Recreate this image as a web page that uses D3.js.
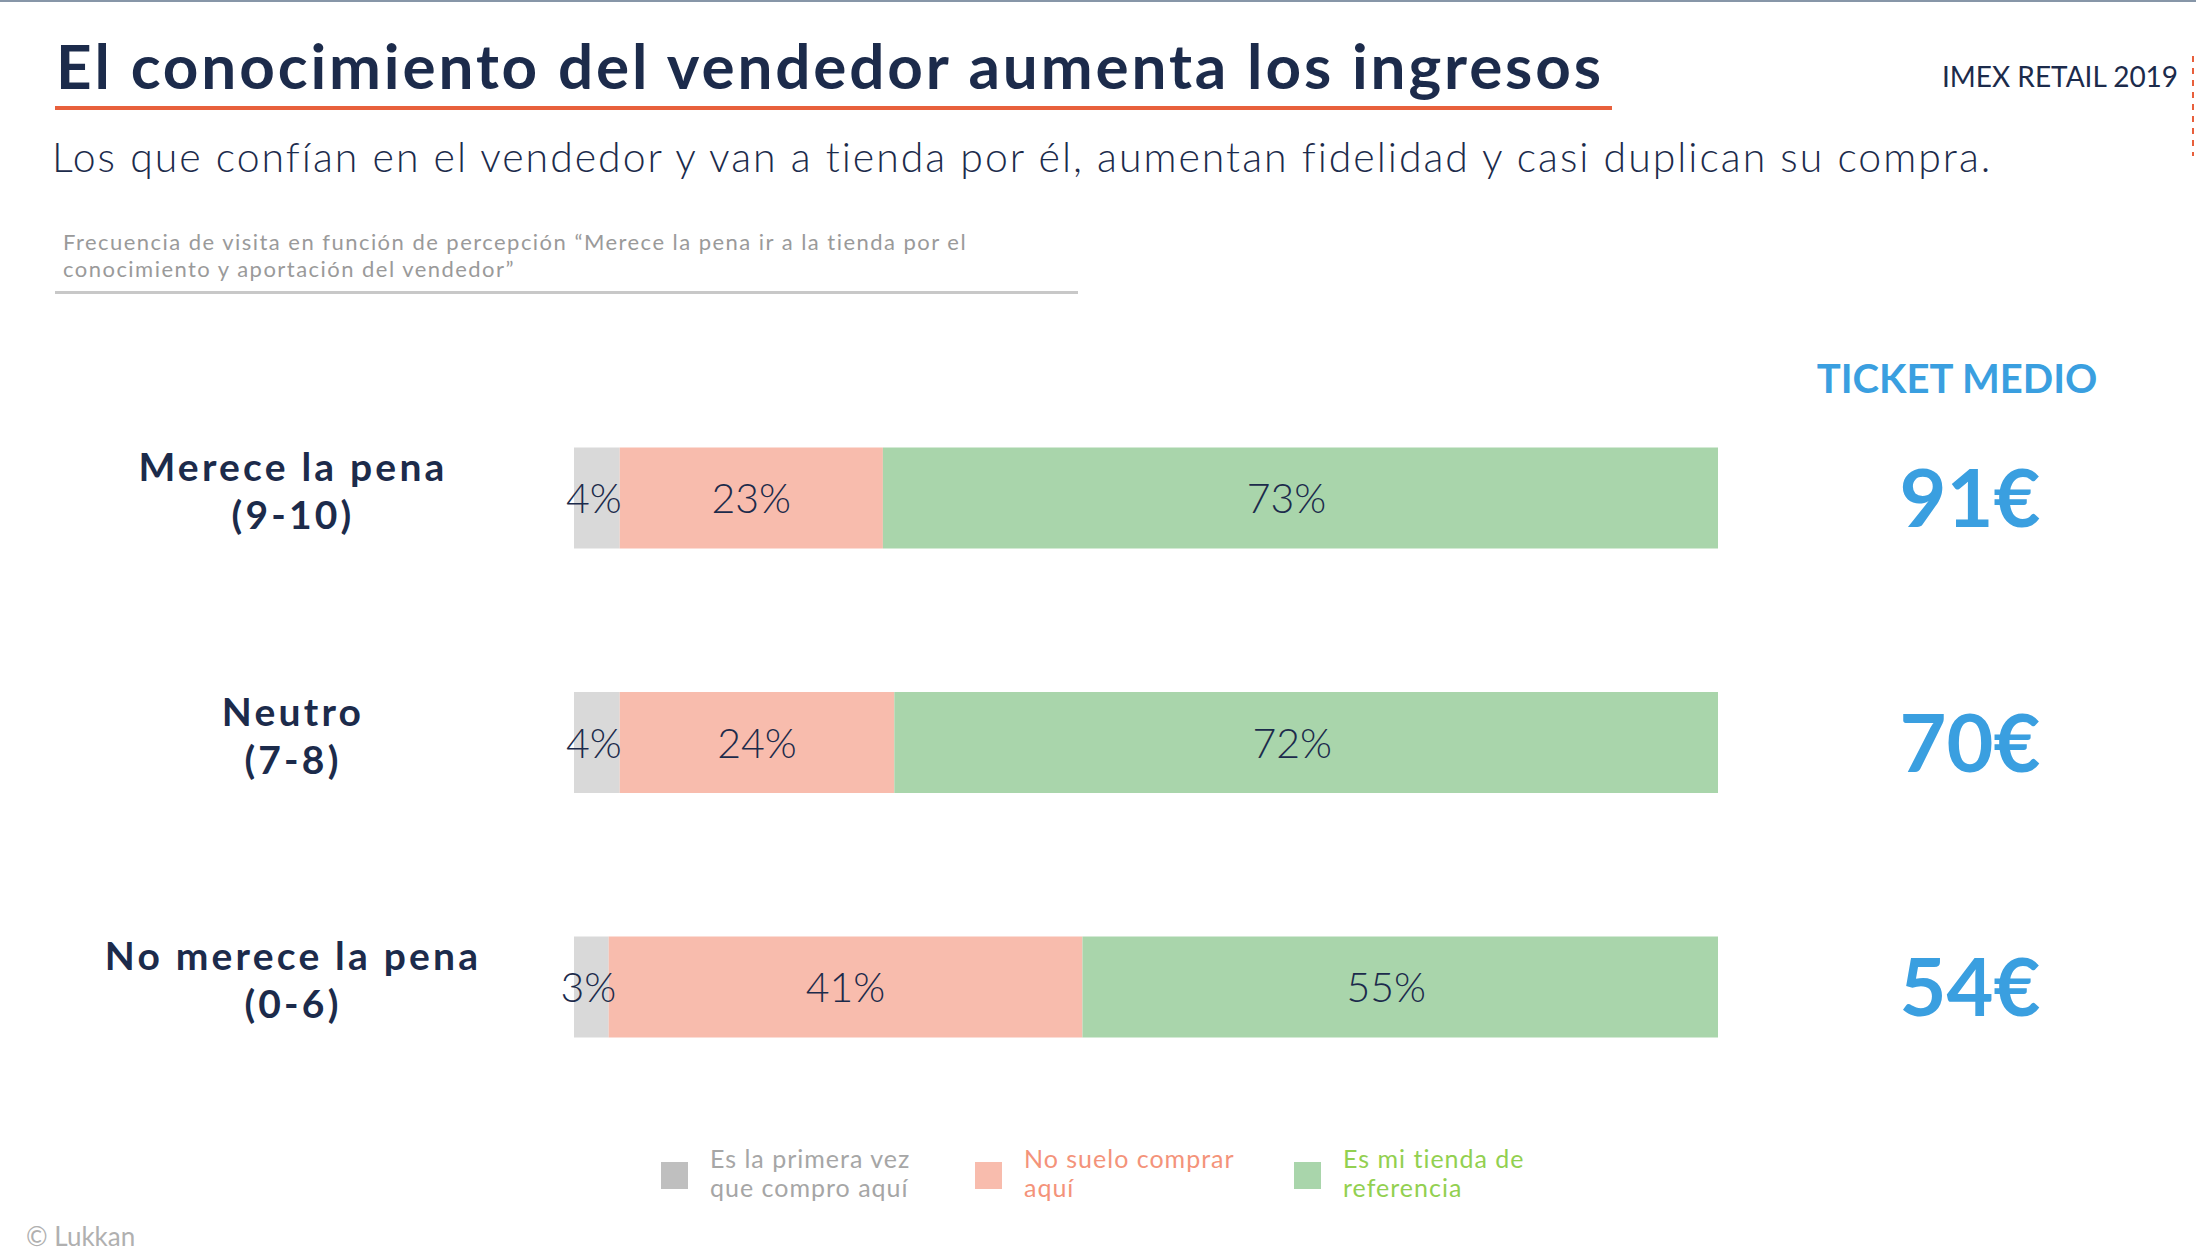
<!DOCTYPE html>
<html>
<head>
<meta charset="utf-8">
<script src="https://cdn.jsdelivr.net/npm/d3@7"></script>
<style>
  html, body { margin: 0; padding: 0; background: #fff; overflow: hidden; }
  svg { display: block; }
</style>
</head>
<body>
<script>
// ---- Data ----
const categoryLine1 = ["Merece la pena", "Neutro", "No merece la pena"];
const categoryLine2 = ["(9-10)", "(7-8)", "(0-6)"];
const seriesNames = ["Es la primera vez que compro aquí", "No suelo comprar aquí", "Es mi tienda de referencia"];
const legendLine1 = ["Es la primera vez", "No suelo comprar", "Es mi tienda de"];
const legendLine2 = ["que compro aquí", "aquí", "referencia"];
const primeraVez = [4, 4, 3];
const noSuelo = [23, 24, 41];
const referencia = [73, 72, 55];
const ticketMedio = [91, 70, 54];

const title = "El conocimiento del vendedor aumenta los ingresos";
const subtitle = "Los que confían en el vendedor y van a tienda por él, aumentan fidelidad y casi duplican su compra.";
const noteLines = ["Frecuencia de visita en función de percepción “Merece la pena ir a la tienda por el", "conocimiento y aportación del vendedor”"];
const brand = "IMEX RETAIL 2019";
const ticketTitle = "TICKET MEDIO";

// ---- Styles ----
const W = 2196, H = 1256;
const navy = "#1c2b4b";
const barColors = ["#d9d9d9", "#f8bcad", "#a9d5ab"];
const legendSwatch = ["#bfbfbf", "#f8bcad", "#a9d5ab"];
const legendText = ["#a6a6a6", "#f4937a", "#92d050"];
const blue = "#3a9fe0";
const FONT = "Lato, 'Noto Sans', sans-serif";

const svg = d3.select("body").append("svg").attr("width", W).attr("height", H)
  .style("font-family", FONT);

// stretch a text to a target width with letter spacing; returns spacing used
function fitSpacing(sel, target) {
  const node = sel.node();
  const w = node.getComputedTextLength();
  const n = node.textContent.length;
  const sp = Math.max(0, (target - w) / Math.max(1, n - 1));
  sel.attr("letter-spacing", sp);
  return sp;
}

// top border
svg.append("rect").attr("x", 0).attr("y", 0).attr("width", W).attr("height", 2).attr("fill", "#8796a8");
// right dashed accent
svg.append("line").attr("x1", 2193).attr("x2", 2193).attr("y1", 56).attr("y2", 156)
  .attr("stroke", "#e8603c").attr("stroke-width", 2).attr("stroke-dasharray", "6,6");

// title
const tt = svg.append("text").attr("x", 56).attr("y", 89).text(title)
  .attr("font-size", 62).attr("font-weight", 700).attr("fill", navy);
fitSpacing(tt, 1545);
svg.append("rect").attr("x", 55).attr("y", 106).attr("width", 1557).attr("height", 4).attr("fill", "#e8603c");

svg.append("text").attr("x", 1942).attr("y", 87).text(brand)
  .attr("font-size", 28).attr("font-weight", 400).attr("fill", navy);

const st = svg.append("text").attr("x", 52).attr("y", 172).text(subtitle)
  .attr("font-size", 41).attr("font-weight", 300).attr("fill", navy);
fitSpacing(st, 1937);

// note
const notes = svg.selectAll("text.note").data(noteLines).join("text").attr("class", "note")
  .attr("x", 63).attr("y", (d, i) => 250 + i * 27).text(d => d)
  .attr("font-size", 22).attr("fill", "#9a9a9a");
const nsp = fitSpacing(d3.select(notes.nodes()[0]), 903);
notes.attr("letter-spacing", nsp);
svg.append("rect").attr("x", 55).attr("y", 291).attr("width", 1023).attr("height", 3).attr("fill", "#c8c8c8");

// ---- Scales ----
const y = d3.scalePoint().domain(d3.range(categoryLine1.length)).range([498, 987]);
const x = d3.scaleLinear().domain([0, 100]).range([574, 1718]);
const barH = 101;

const rows = categoryLine1.map((c, i) => {
  const vals = [primeraVez[i], noSuelo[i], referencia[i]];
  const tot = d3.sum(vals);
  let acc = 0;
  return vals.map((v, k) => {
    const s = { row: i, k, v, x0: acc / tot * 100, x1: (acc + v) / tot * 100 };
    acc += v;
    return s;
  });
});
const segs = rows.flat();

const g = svg.append("g");
g.selectAll("rect.seg").data(segs).join("rect").attr("class", "seg")
  .attr("x", d => x(d.x0)).attr("width", d => x(d.x1) - x(d.x0))
  .attr("y", d => y(d.row) - barH / 2).attr("height", barH)
  .attr("fill", d => barColors[d.k]);

g.selectAll("text.pct").data(segs).join("text").attr("class", "pct")
  .attr("x", d => d.k === 0 ? (x(d.x0) + x(d.x1)) / 2 - 3 : (x(d.x0) + x(d.x1)) / 2 - (d.k === 2 ? 14 : 0))
  .attr("y", d => y(d.row) + 15)
  .attr("text-anchor", "middle").attr("font-size", 41).attr("font-weight", 300)
  .attr("fill", navy).text(d => d.v + "%");

// category labels
const cat = svg.selectAll("g.cat").data(categoryLine1).join("g").attr("class", "cat");
cat.append("text").attr("x", 293).attr("y", (d, i) => y(i) - 17).attr("text-anchor", "middle")
  .attr("font-size", 39).attr("font-weight", 700).attr("letter-spacing", 3.2).attr("fill", navy).text(d => d);
cat.append("text").attr("x", 293).attr("y", (d, i) => y(i) + 31).attr("text-anchor", "middle")
  .attr("font-size", 39).attr("font-weight", 700).attr("letter-spacing", 3.2).attr("fill", navy).text((d, i) => categoryLine2[i]);

// ticket medio
svg.append("text").attr("x", 1957).attr("y", 393).attr("text-anchor", "middle")
  .attr("font-size", 40).attr("font-weight", 700).attr("fill", blue).text(ticketTitle);
svg.selectAll("text.ticket").data(ticketMedio).join("text").attr("class", "ticket")
  .attr("x", 1970).attr("y", (d, i) => y(i) + 29).attr("text-anchor", "middle")
  .attr("font-size", 81).attr("font-weight", 700).attr("fill", blue).text(d => d + "€");

// legend
const legX = [661, 975, 1294];
const lg = svg.selectAll("g.leg").data(seriesNames).join("g").attr("class", "leg")
  .attr("transform", (d, i) => `translate(${legX[i]},0)`);
lg.append("rect").attr("x", 0).attr("y", 1162).attr("width", 27).attr("height", 27)
  .attr("fill", (d, i) => legendSwatch[i]);
lg.append("text").attr("x", 49).attr("y", 1168).attr("font-size", 25).attr("font-weight", 400)
  .attr("letter-spacing", 1).attr("fill", (d, i) => legendText[i]).text((d, i) => legendLine1[i]);
lg.append("text").attr("x", 49).attr("y", 1197).attr("font-size", 25).attr("font-weight", 400)
  .attr("letter-spacing", 1).attr("fill", (d, i) => legendText[i]).text((d, i) => legendLine2[i]);

// footer
svg.append("text").attr("x", 26).attr("y", 1246).attr("font-size", 26).attr("fill", "#b0b0b0")
  .text("© Lukkan");
</script>
</body>
</html>
